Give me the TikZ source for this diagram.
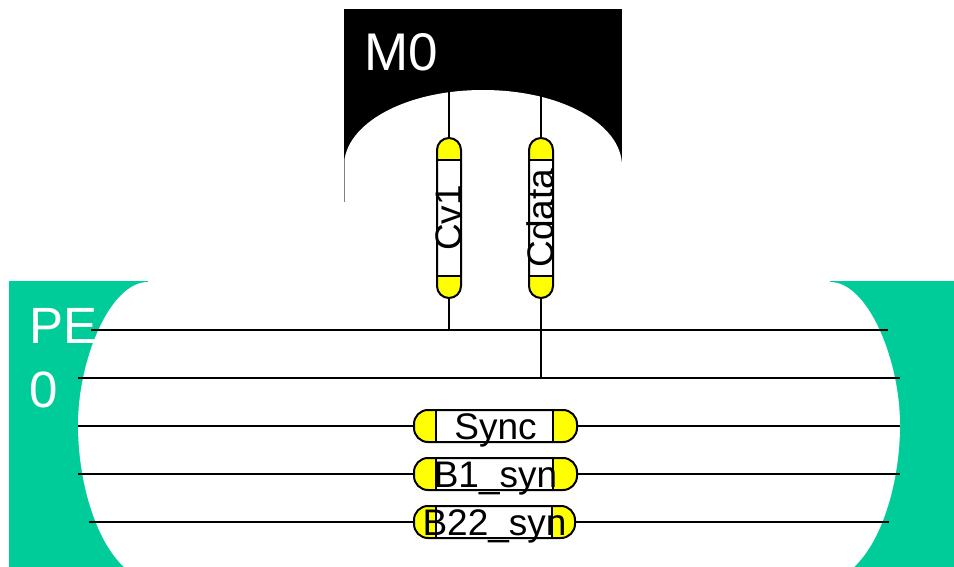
\documentclass[tikz,border=0pt]{standalone}
\usepackage{fontspec}
\setmainfont{Liberation Sans}
\usetikzlibrary{calc}
\definecolor{pegreen}{HTML}{00CC99}
\definecolor{capyellow}{RGB}{255,255,0}
\tikzset{
  wire/.style={draw=black,line width=2pt},
  capline/.style={black,line width=2pt},
  bar/.style n args={4}{draw=black,line width=2pt,fill=white,rounded corners=12pt,inner sep=0pt,
    font=\fontsize{37}{37}\selectfont,
    path picture={
      \coordinate (pw) at (path picture bounding box.#3);
      \coordinate (pe) at (path picture bounding box.#4);
      \coordinate (pl) at ($(pw)!#1!(pe)$);
      \coordinate (pr) at ($(pe)!#2!(pw)$);
      \draw[capyellow,line width=60pt] (pw) -- (pl);
      \draw[capyellow,line width=60pt] (pe) -- (pr);
      \draw[capline] ($(pl)!30pt!90:(pw)$) -- ($(pl)!30pt!-90:(pw)$);
      \draw[capline] ($(pr)!30pt!90:(pe)$) -- ($(pr)!30pt!-90:(pe)$);
    }},
  hbar/.style 2 args={bar={#1}{#2}{west}{east},minimum height=32pt,text height=29pt,text depth=3pt,rounded corners=14pt},
  vbar/.style={bar={22pt}{22pt}{south}{north},rotate=90,minimum width=160pt,minimum height=24pt,text height=24pt,text depth=0pt},
  bigtext/.style={text=white,inner sep=0pt,align=left}
}
\begin{document}
\begin{tikzpicture}[x=1pt,y=-1pt]
\useasboundingbox (0,0) rectangle (954,567);
% M0 shape
\fill[black] (344,9) rectangle (622,166);
\fill[white] (344,166) .. controls (344,124) and (405,90) .. (483,90) .. controls (561,90) and (622,124) .. (622,166) -- (622,210) -- (344,210) -- cycle;
\draw[gray,line width=0.6pt] (344,160) -- (344,202);
\node[bigtext,anchor=base west,font=\fontsize{53}{64}\selectfont] (m0) at (364,71) {M0};
% PE shape
\fill[pegreen] (9,281) rectangle (148,567);
\fill[pegreen] (830,281) rectangle (954,567);
\fill[white] (148,282) .. controls (110,282) and (78,360) .. (78,425) .. controls (78,480) and (95,540) .. (124,567) -- (854,567) .. controls (883,540) and (900,480) .. (900,425) .. controls (900,360) and (868,282) .. (830,282) -- cycle;
\node[bigtext,anchor=base west,font=\fontsize{51}{64}\selectfont] (pe0) at (29,407) {PE\\0};
% junctions and free ends
\coordinate (t1) at (449,92);
\coordinate (t2) at (541,96);
\coordinate (j1) at (449,330);
\coordinate (j2) at (541,378);
\coordinate (a1) at (91,330);  \coordinate (a2) at (888,330);
\coordinate (b1) at (78,378);  \coordinate (b2) at (900,378);
\coordinate (c1) at (78,426);  \coordinate (c2) at (900,426);
\coordinate (d1) at (78,474);  \coordinate (d2) at (900,474);
\coordinate (e1) at (89,522);  \coordinate (e2) at (889,522);
% bars
\node[vbar] (cv1) at (449,218) {Cv1};
\node[vbar] (cdata) at (541,218) {Cdata};
\node[hbar={22pt}{24pt},minimum width=163pt] (sync) at (495.5,426) {Sync};
\node[hbar={22pt}{24pt},minimum width=163pt] (b1s) at (495.5,474) {B1\_syn};
\node[hbar={22pt}{23pt},minimum width=161pt] (b22) at (494.5,522) {B22\_syn};
% wires
\draw[wire] (t1) -- (cv1.east);
\draw[wire] (t2) -- (cdata.east);
\draw[wire] (cv1.west) -- (j1);
\draw[wire] (cdata.west) -- (j2);
\draw[wire] (a1) -- (a2);
\draw[wire] (b1) -- (b2);
\draw[wire] (c1) -- (sync.west);
\draw[wire] (sync.east) -- (c2);
\draw[wire] (d1) -- (b1s.west);
\draw[wire] (b1s.east) -- (d2);
\draw[wire] (e1) -- (b22.west);
\draw[wire] (b22.east) -- (e2);
\end{tikzpicture}
\end{document}
